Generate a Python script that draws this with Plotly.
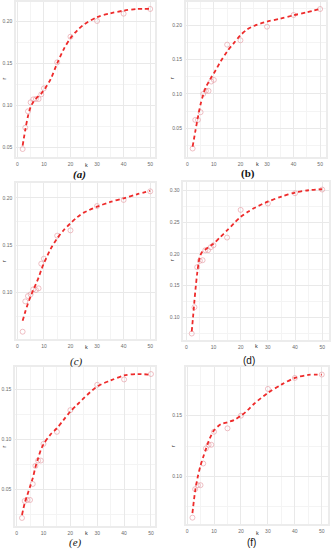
import plotly.graph_objects as go

# observed k values (same for all panels)
k = [2, 3, 4, 5, 6, 7, 8, 9, 10, 15, 20, 30, 40, 50]

# observed r values per panel
r_a = [0.048, 0.0734, 0.0929, 0.1036, 0.1071, 0.1075, 0.1075, 0.1131, 0.1202, 0.1512, 0.1817, 0.2004, 0.2091, 0.2147]
r_b = [0.0204, 0.0621, 0.0621, 0.0733, 0.100, 0.1044, 0.1044, 0.118, 0.1204, 0.1718, 0.1782, 0.198, 0.215, 0.2238]
r_c = [0.0588, 0.0908, 0.0965, 0.0982, 0.1035, 0.1028, 0.1046, 0.1306, 0.1359, 0.1602, 0.1658, 0.1915, 0.1979, 0.207]
r_d = [0.0742, 0.1158, 0.179, 0.189, 0.19, 0.2058, 0.2058, 0.2105, 0.2137, 0.2258, 0.2695, 0.2795, 0.2958, 0.3016]
r_e = [0.0218, 0.0387, 0.0397, 0.0397, 0.0556, 0.0736, 0.0789, 0.0789, 0.0955, 0.1075, 0.1291, 0.1543, 0.1596, 0.165]
r_f = [0.0662, 0.0896, 0.0929, 0.0929, 0.1107, 0.1231, 0.1261, 0.1261, 0.1368, 0.1396, 0.15, 0.172, 0.181, 0.1838]

# fitted (dashed) curves
fit_k = [2, 3, 4, 5, 6, 7, 8, 9, 10, 12.5, 15, 17.5, 20, 22.5, 25, 30, 35, 40, 45, 50]
fit_a = [0.052, 0.071, 0.087, 0.098, 0.104, 0.108, 0.111, 0.114, 0.118, 0.131, 0.150, 0.167, 0.180, 0.189, 0.196, 0.205, 0.2095, 0.2127, 0.2147, 0.2147]
fit_b = [0.023, 0.045, 0.066, 0.085, 0.099, 0.110, 0.117, 0.124, 0.130, 0.147, 0.162, 0.174, 0.1855, 0.194, 0.199, 0.2055, 0.2096, 0.2147, 0.219, 0.224]
fit_c = [0.0704, 0.080, 0.0887, 0.096, 0.103, 0.109, 0.116, 0.124, 0.131, 0.146, 0.1574, 0.1662, 0.1732, 0.1796, 0.1845, 0.1908, 0.1958, 0.1996, 0.2039, 0.2074]
fit_k_d = [2, 2.5, 3, 3.5, 4, 4.5, 5, 6, 7, 8, 9, 10, 12.5, 15, 17.5, 20, 22.5, 25, 30, 35, 40, 45, 50]
fit_d = [0.0774, 0.101, 0.126, 0.149, 0.169, 0.185, 0.196, 0.204, 0.207, 0.21, 0.213, 0.216, 0.2265, 0.237, 0.248, 0.2585, 0.266, 0.2725, 0.2825, 0.2905, 0.2968, 0.3005, 0.3021]
fit_e = [0.0248, 0.0364, 0.0447, 0.053, 0.0613, 0.0723, 0.0812, 0.0895, 0.095, 0.1045, 0.1111, 0.1194, 0.1277, 0.1344, 0.141, 0.1527, 0.1586, 0.1636, 0.165, 0.1643]
fit_f = [0.070, 0.088, 0.100, 0.109, 0.116, 0.1225, 0.129, 0.134, 0.138, 0.143, 0.1446, 0.1465, 0.150, 0.1545, 0.160, 0.1687, 0.1755, 0.181, 0.1835, 0.1838]

panel_labels = ["(a)", "(b)", "(c)", "(d)", "(e)", "(f)"]
x_title = "k"
y_title = "r"

W, H = 331, 550

def fx(px):
    return px / W

def fy(py):
    return 1 - py / H

panels = [
    (r_a, fit_k, fit_a, (16, 155), (2, 157), [-0.5, 51.8], [0.0385, 0.223], [0.05, 0.10, 0.15, 0.20]),
    (r_b, fit_k, fit_b, (185.7, 326), (2, 157), [-0.6, 52.2], [0.008, 0.234], [0.05, 0.10, 0.15, 0.20]),
    (r_c, fit_k, fit_c, (16, 155), (183, 339), [-0.5, 51.8], [0.0511, 0.2158], [0.10, 0.15, 0.20]),
    (r_d, fit_k_d, fit_d, (183.3, 329), (181.7, 340), [-1.1, 52.5], [0.064, 0.314], [0.10, 0.15, 0.20, 0.25, 0.30]),
    (r_e, fit_k, fit_e, (15, 155), (367, 526), [-0.6, 51.5], [0.0138, 0.172], [0.05, 0.10, 0.15]),
    (r_f, fit_k, fit_f, (185.7, 328), (367, 524), [-0.5, 52.3], [0.061, 0.190], [0.10, 0.15]),
]

label_pos = [(79, 175), (248, 173), (76, 361), (249, 360), (75, 542), (251, 542)]
xtitle_pos = [(86, 164.5), (257, 164), (86, 346.5), (256, 346), (86, 533), (257, 533)]
ytitle_pos = [(3.5, 79), (172, 78), (4, 261), (172, 260), (3.5, 447), (173, 446)]
label_font = [
    dict(family="Liberation Serif", size=11, style="italic", weight="bold"),
    dict(family="Liberation Serif", size=11, weight="bold"),
    dict(family="Liberation Serif", size=11, style="italic"),
    dict(family="Liberation Sans", size=10),
    dict(family="Liberation Serif", size=11, style="italic"),
    dict(family="Liberation Sans", size=10),
]

fig = go.Figure()
layout = dict(
    width=W, height=H,
    margin=dict(l=0, r=0, t=0, b=0),
    paper_bgcolor="white", plot_bgcolor="white",
    showlegend=False,
)
annotations = []
tickfont = dict(family="Liberation Sans", size=5, color="#6b6b6b")
titlefont = dict(family="Liberation Sans", size=5.5, color="#333")

for i, (obs, fxv, fyv, xp, yp, xr, yr, ytv) in enumerate(panels):
    n = "" if i == 0 else str(i + 1)
    xa, ya = "x" + n, "y" + n
    fig.add_trace(go.Scatter(
        x=k, y=obs, mode="markers", xaxis=xa, yaxis=ya,
        marker=dict(symbol="circle-open", size=5, color="rgba(228,150,158,0.6)", line=dict(width=1)),
    ))
    fig.add_trace(go.Scatter(
        x=fxv, y=fyv, mode="lines", xaxis=xa, yaxis=ya,
        line=dict(color="#ee2b2b", width=1.8, dash="4px,3px", shape="spline", smoothing=0.8),
    ))
    common = dict(
        showgrid=True, gridcolor="#e9e9e9", gridwidth=0.8,
        zeroline=False, showline=True, mirror=True, linecolor="#ececec", linewidth=1.5,
        ticks="", tickfont=tickfont, ticklabelstandoff=1,
    )
    layout["xaxis" + n] = dict(
        domain=[fx(xp[0]), fx(xp[1])], anchor=ya, range=xr,
        tickvals=[0, 10, 20, 30, 40, 50],
        minor=dict(showgrid=True, gridcolor="#f4f4f4", dtick=5, tick0=0),
        **common,
    )
    layout["yaxis" + n] = dict(
        domain=[fy(yp[1]), fy(yp[0])], anchor=xa, range=yr,
        tickvals=ytv, tickformat=".2f",
        minor=dict(showgrid=True, gridcolor="#f4f4f4", dtick=0.025, tick0=0),
        **common,
    )
    lx, ly = label_pos[i]
    annotations.append(dict(
        text=panel_labels[i], x=fx(lx), y=fy(ly), xref="paper", yref="paper",
        showarrow=False, xanchor="center", yanchor="middle",
        font=dict(color="#111", **label_font[i]),
    ))
    tx, ty = xtitle_pos[i]
    annotations.append(dict(
        text=x_title, x=fx(tx), y=fy(ty), xref="paper", yref="paper",
        showarrow=False, xanchor="center", yanchor="middle", font=titlefont,
    ))
    tx, ty = ytitle_pos[i]
    annotations.append(dict(
        text=y_title, x=fx(tx), y=fy(ty), xref="paper", yref="paper",
        showarrow=False, xanchor="center", yanchor="middle", textangle=-90, font=titlefont,
    ))

layout["annotations"] = annotations
fig.update_layout(**layout)
fig.write_html(
    "out.html",
    config={"displayModeBar": False},
    post_script="document.body.style.margin='0';document.body.style.overflow='hidden';",
)
